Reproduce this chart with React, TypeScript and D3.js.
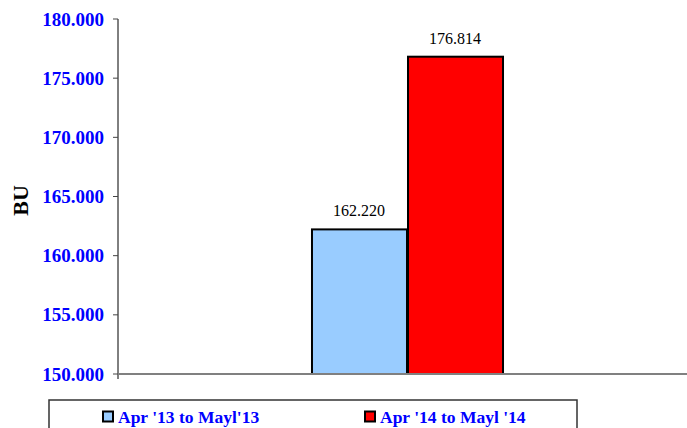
import React from "react";
import * as d3 from "d3";

const categories = [""];
const seriesNames = ["Apr '13 to Mayl'13", "Apr '14 to Mayl '14"];
const seriesValues = [162.22, 176.814];
const seriesColors = ["#99CCFF", "#FF0000"];
const valueLabels = ["162.220", "176.814"];
const yTicks = [150, 155, 160, 165, 170, 175, 180];
const yLabel = "BU";

const W = 687;
const H = 428;
const left = 118;
const top = 19;
const bottom = 374;

export default function App() {
  const y = d3.scaleLinear().domain([150, 180]).range([bottom, top]);
  const x0 = d3.scaleBand<string>().domain(categories).range([left, 696]).paddingInner(0).paddingOuter(1.005);
  const x1 = d3.scaleBand<string>().domain(seriesNames).range([0, x0.bandwidth()]).padding(0);
  const font = "Liberation Serif, Times New Roman, Times, DejaVu Serif, serif";

  const legendX = [103, 365];

  return (
    <svg width={W} height={H} style={{ position: "absolute", left: 0, top: 0, background: "#fff", fontFamily: font }}>
      <line x1={left} x2={left} y1={top} y2={bottom + 5} stroke="#000" strokeWidth={1} />
      {yTicks.map((t) => (
        <g key={t}>
          <line x1={left - 5} x2={left} y1={y(t)} y2={y(t)} stroke="#444" strokeWidth={1} />
          <text x={104} y={y(t)} dy="0.35em" textAnchor="end" fontSize={19} fontWeight="bold" fill="#0000FF" style={{ fontFamily: font }}>
            {d3.format(".3f")(t)}
          </text>
        </g>
      ))}
      <text
        transform={`translate(28,${(top + bottom) / 2 + 4}) rotate(-90)`}
        textAnchor="middle"
        fontSize={22}
        fontWeight="bold"
        fill="#000"
        style={{ fontFamily: font }}
      >
        {yLabel}
      </text>
      {categories.map((c) => (
        <g key={c} transform={`translate(${x0(c)},0)`}>
          {seriesNames.map((s, i) => (
            <g key={s}>
              <rect
                x={(x1(s) as number) + 1}
                y={y(seriesValues[i])}
                width={x1.bandwidth() - 1}
                height={bottom - y(seriesValues[i])}
                fill={seriesColors[i]}
                stroke="#000"
                strokeWidth={2}
              />
              <text
                x={(x1(s) as number) + x1.bandwidth() / 2}
                y={y(seriesValues[i]) - 13}
                textAnchor="middle"
                fontSize={16}
                fill="#000"
                style={{ fontFamily: font }}
              >
                {valueLabels[i]}
              </text>
            </g>
          ))}
        </g>
      ))}
      <line x1={left} x2={W} y1={bottom} y2={bottom} stroke="#808080" strokeWidth={2} />
      <rect x={49} y={400} width={528} height={40} fill="#fff" stroke="#333" strokeWidth={1.5} />
      {seriesNames.map((s, i) => (
        <g key={s}>
          <rect x={legendX[i]} y={411.5} width={10} height={10} fill={seriesColors[i]} stroke="#000" strokeWidth={2} />
          <text x={legendX[i] + 15} y={423} fontSize={17.5} fontWeight="bold" fill="#0000FF" style={{ fontFamily: font }}>
            {s}
          </text>
        </g>
      ))}
    </svg>
  );
}
